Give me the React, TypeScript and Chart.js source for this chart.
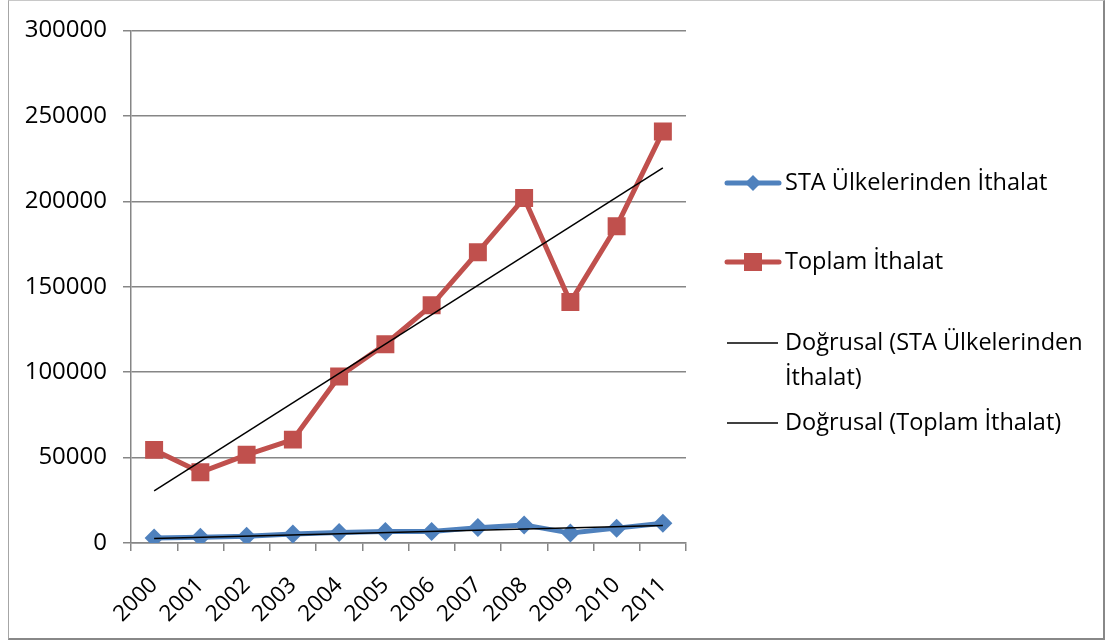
import React, { useEffect, useRef } from "react";
import { Chart, registerables } from "chart.js";

Chart.register(...registerables);

const years = ["2000", "2001", "2002", "2003", "2004", "2005", "2006", "2007", "2008", "2009", "2010", "2011"];
const staImports = [2900, 3300, 3900, 5200, 6200, 6700, 6800, 9000, 10600, 5800, 8700, 11600];
const totalImports = [54500, 41400, 51600, 60500, 97500, 116300, 139100, 170200, 201900, 141000, 185400, 240800];
// Linear trend lines (start and end values)
const staTrendEnds = [2700, 10300];
const totalTrendEnds = [30500, 219500];
const yTicks = [0, 50000, 100000, 150000, 200000, 250000, 300000];

const legendLabels = [
  ["STA Ülkelerinden İthalat"],
  ["Toplam İthalat"],
  ["Doğrusal (STA Ülkelerinden", "İthalat)"],
  ["Doğrusal (Toplam İthalat)"],
];

const BLUE = "#4F81BD";
const RED = "#C0504D";
const GRID = "#868686";
const FONT = "'Open Sans', sans-serif";
const TICK_SIZE = 24;
const XTICK_SIZE = 22.5;
const LEGEND_SIZE = 23.5;

function endsToSeries(ends: number[], n: number) {
  const arr: (number | null)[] = new Array(n).fill(null);
  arr[0] = ends[0];
  arr[n - 1] = ends[1];
  return arr;
}

const legendPlugin = {
  id: "customLegend",
  afterDraw(chart: any) {
    const ctx = chart.ctx as CanvasRenderingContext2D;
    ctx.save();
    ctx.font = `${LEGEND_SIZE}px ${FONT}`;
    ctx.textBaseline = "middle";
    ctx.fillStyle = "#000";
    const rows = [183, 262, 343, 423];
    const lineHeight = 35;
    rows.forEach((y, i) => {
      if (i === 0) {
        ctx.strokeStyle = BLUE;
        ctx.lineWidth = 5;
        ctx.lineCap = "round";
        ctx.beginPath();
        ctx.moveTo(727, y);
        ctx.lineTo(779, y);
        ctx.stroke();
        ctx.fillStyle = BLUE;
        ctx.beginPath();
        ctx.moveTo(753 - 8, y);
        ctx.lineTo(753, y - 8);
        ctx.lineTo(753 + 8, y);
        ctx.lineTo(753, y + 8);
        ctx.closePath();
        ctx.fill();
      } else if (i === 1) {
        ctx.strokeStyle = RED;
        ctx.lineWidth = 5;
        ctx.lineCap = "round";
        ctx.beginPath();
        ctx.moveTo(727, y);
        ctx.lineTo(779, y);
        ctx.stroke();
        ctx.fillStyle = RED;
        ctx.fillRect(744, y - 9, 18, 18);
      } else {
        ctx.strokeStyle = "#000";
        ctx.lineWidth = 1.5;
        ctx.lineCap = "butt";
        ctx.beginPath();
        ctx.moveTo(727, y);
        ctx.lineTo(778, y);
        ctx.stroke();
      }
      ctx.fillStyle = "#000";
      legendLabels[i].forEach((t, j) => {
        ctx.fillText(t, 785, y + j * lineHeight);
      });
    });
    ctx.restore();
  },
};

export default function App() {
  const canvasRef = useRef<HTMLCanvasElement | null>(null);

  useEffect(() => {
    if (!canvasRef.current) return;
    const n = years.length;
    const chart = new Chart(canvasRef.current, {
      type: "line",
      data: {
        labels: years,
        datasets: [
          {
            label: "Doğrusal (STA Ülkelerinden İthalat)",
            data: endsToSeries(staTrendEnds, n),
            borderColor: "#000",
            borderWidth: 1.5,
            pointRadius: 0,
            spanGaps: true,
            order: 0,
          },
          {
            label: "Doğrusal (Toplam İthalat)",
            data: endsToSeries(totalTrendEnds, n),
            borderColor: "#000",
            borderWidth: 1.5,
            pointRadius: 0,
            spanGaps: true,
            order: 0,
          },
          {
            label: "STA Ülkelerinden İthalat",
            data: staImports,
            borderColor: BLUE,
            backgroundColor: BLUE,
            borderWidth: 5,
            pointStyle: "rectRot",
            pointRadius: 9.5,
            pointBorderWidth: 0,
            pointBackgroundColor: BLUE,
            order: 1,
          },
          {
            label: "Toplam İthalat",
            data: totalImports,
            borderColor: RED,
            backgroundColor: RED,
            borderWidth: 5,
            pointStyle: "rect",
            pointRadius: 12.7,
            pointBorderWidth: 0,
            pointBackgroundColor: RED,
            order: 2,
          },
        ],
      },
      options: {
        animation: false,
        responsive: false,
        maintainAspectRatio: false,
        layout: { padding: { left: 0, top: 29, right: 1105 - 686, bottom: 0 } },
        plugins: {
          legend: { display: false },
          tooltip: { enabled: false },
        },
        scales: {
          x: {
            type: "category",
            offset: true,
            grid: {
              display: true,
              drawOnChartArea: false,
              drawTicks: true,
              offset: true,
              tickLength: 8,
              color: GRID,
              lineWidth: 1.5,
            },
            border: { color: GRID, width: 1.5 },
            ticks: {
              color: "#000",
              font: { family: FONT, size: XTICK_SIZE },
              maxRotation: 45,
              minRotation: 45,
              padding: 21,
              autoSkip: false,
            },
            afterFit(scale: any) {
              scale.height = 641 - 543;
            },
          },
          y: {
            min: 0,
            max: 300000,
            afterBuildTicks(scale: any) {
              scale.ticks = yTicks.map((v) => ({ value: v }));
            },
            grid: {
              color: GRID,
              lineWidth: 1.5,
              tickLength: 8,
              drawTicks: true,
            },
            border: { color: GRID, width: 1.5 },
            ticks: {
              color: "#000",
              font: { family: FONT, size: TICK_SIZE },
              padding: 16,
              callback: (v: any) => String(v),
            },
            afterFit(scale: any) {
              scale.width = 131;
            },
          },
        },
      },
      plugins: [legendPlugin],
    });
    return () => chart.destroy();
  }, []);

  return (
    <div style={{ position: "absolute", left: 0, top: 0, width: 1105, height: 641, background: "#fff" }}>
      <div
        style={{
          position: "absolute",
          left: 8,
          top: 0,
          width: 1094,
          height: 637,
          borderLeft: "1px solid #a6a6a6",
          borderTop: "1px solid #c8c8c8",
          borderRight: "2px solid #888",
          borderBottom: "2px solid #888",
        }}
      />
      <canvas
        ref={canvasRef}
        width={1105}
        height={641}
        style={{ position: "absolute", left: 0, top: 0, width: 1105, height: 641 }}
      />
    </div>
  );
}
